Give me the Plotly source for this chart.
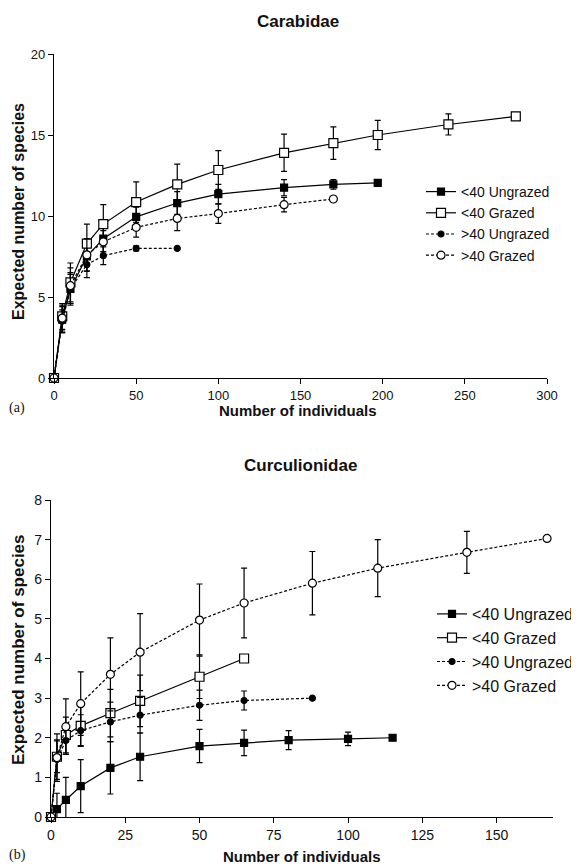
import plotly.graph_objects as go

# ---------------- Carabidae (a) ----------------
a_x_lt_ug = [0, 5, 10, 20, 30, 50, 75, 100, 140, 170, 197]
a_y_lt_ug = [0, 3.6, 5.5, 7.5, 8.6, 9.95, 10.8, 11.35, 11.75, 11.95, 12.05]
a_e_lt_ug = [0, 0.8, 1.0, 0.9, 0.8, 0.6, 0.7, 0.6, 0.5, 0.3, 0]

a_x_lt_g = [0, 5, 10, 20, 30, 50, 75, 100, 140, 170, 197, 240, 281]
a_y_lt_g = [0, 3.8, 5.9, 8.3, 9.5, 10.86, 11.95, 12.84, 13.9, 14.5, 15.0, 15.65, 16.15]
a_e_lt_g = [0, 0.8, 1.2, 1.2, 1.2, 1.25, 1.25, 1.2, 1.15, 1.0, 0.9, 0.65, 0]

a_x_gt_ug = [0, 5, 10, 20, 30, 50, 75]
a_y_gt_ug = [0, 3.5, 5.5, 7.0, 7.55, 8.0, 8.0]
a_e_gt_ug = [0, 0.7, 0.9, 0.8, 0.55, 0.15, 0]

a_x_gt_g = [0, 5, 10, 20, 30, 50, 75, 100, 140, 170]
a_y_gt_g = [0, 3.7, 5.7, 7.6, 8.4, 9.3, 9.85, 10.15, 10.7, 11.05]
a_e_gt_g = [0, 0.8, 1.1, 1.0, 0.7, 0.6, 0.75, 0.6, 0.45, 0]

# ---------------- Curculionidae (b) ----------------
b_x_lt_ug = [0, 2, 5, 10, 20, 30, 50, 65, 80, 100, 115]
b_y_lt_ug = [0, 0.2, 0.43, 0.78, 1.24, 1.52, 1.79, 1.87, 1.94, 1.97, 2.0]
b_e_lt_ug = [0, 0.4, 0.57, 0.67, 0.66, 0.6, 0.42, 0.32, 0.24, 0.17, 0]

b_x_lt_g = [0, 2, 5, 10, 20, 30, 50, 65]
b_y_lt_g = [0, 1.52, 2.07, 2.3, 2.62, 2.93, 3.54, 4.0]
b_e_lt_g = [0, 0.4, 0.45, 0.5, 0.6, 0.65, 0.55, 0]

b_x_gt_ug = [0, 2, 5, 10, 20, 30, 50, 65, 88]
b_y_gt_ug = [0, 1.45, 1.93, 2.18, 2.4, 2.57, 2.82, 2.94, 3.0]
b_e_gt_ug = [0, 0.5, 0.35, 0.4, 0.5, 0.45, 0.38, 0.24, 0]

b_x_gt_g = [0, 2, 5, 10, 20, 30, 50, 65, 88, 110, 140, 167]
b_y_gt_g = [0, 1.5, 2.28, 2.86, 3.6, 4.16, 4.97, 5.4, 5.9, 6.28, 6.68, 7.03]
b_e_gt_g = [0, 0.6, 0.7, 0.8, 0.92, 0.97, 0.91, 0.88, 0.8, 0.72, 0.53, 0]

series_names = ["<40 Ungrazed", "<40 Grazed", ">40 Ungrazed", ">40 Grazed"]

W, H = 579, 867
OFF = 8  # page body margin
FONT = "Liberation Sans, Arial, sans-serif"

def px_x(p):
    return (p - OFF) / W

def px_y(p):
    return 1 - (p - OFF) / H

styles = [
    dict(symbol="square", size=7, fill="black", dash="solid"),
    dict(symbol="square", size=9, fill="white", dash="solid"),
    dict(symbol="circle", size=6, fill="black", dash="3px,2px"),
    dict(symbol="circle", size=8, fill="white", dash="3px,2px"),
]

fig = go.Figure()

def add_series(x, y, e, st, name, xa, ya, legend):
    fig.add_trace(go.Scatter(
        x=x, y=y, mode="lines+markers", name=name,
        xaxis=xa, yaxis=ya, legend=legend, cliponaxis=False,
        line=dict(color="black", width=1.2, dash=st["dash"]),
        marker=dict(symbol=st["symbol"], size=st["size"], color=st["fill"],
                    line=dict(color="black", width=1.2)),
        error_y=dict(type="data", array=e, visible=True, color="black",
                     thickness=1.2, width=3),
    ))

a_data = [(a_x_lt_ug, a_y_lt_ug, a_e_lt_ug), (a_x_lt_g, a_y_lt_g, a_e_lt_g),
          (a_x_gt_ug, a_y_gt_ug, a_e_gt_ug), (a_x_gt_g, a_y_gt_g, a_e_gt_g)]
b_data = [(b_x_lt_ug, b_y_lt_ug, b_e_lt_ug), (b_x_lt_g, b_y_lt_g, b_e_lt_g),
          (b_x_gt_ug, b_y_gt_ug, b_e_gt_ug), (b_x_gt_g, b_y_gt_g, b_e_gt_g)]

for (x, y, e), st, nm in zip(a_data, styles, series_names):
    add_series(x, y, e, st, nm, "x", "y", "legend")
for (x, y, e), st, nm in zip(b_data, styles, series_names):
    add_series(x, y, e, st, nm, "x2", "y2", "legend2")

def axis_common(size):
    return dict(showgrid=False, zeroline=False, showline=True, linecolor="black",
                linewidth=1.3, ticks="outside", ticklen=5, tickwidth=1.2,
                tickcolor="black", automargin=False,
                tickfont=dict(family=FONT, size=size, color="#111"))

fig.update_layout(
    width=W, height=H,
    margin=dict(l=0, r=0, t=0, b=0, autoexpand=False),
    paper_bgcolor="white", plot_bgcolor="white",
    showlegend=True,
    xaxis=dict(domain=[px_x(54), px_x(547)], range=[0, 300], tickvals=[0, 50, 100, 150, 200, 250, 300],
               anchor="y", **axis_common(13)),
    yaxis=dict(domain=[px_y(378), px_y(54)], range=[0, 20], tickvals=[0, 5, 10, 15, 20],
               anchor="x", **axis_common(13)),
    xaxis2=dict(domain=[px_x(51), px_x(553)], range=[0, 169], tickvals=[0, 25, 50, 75, 100, 125, 150],
                anchor="y2", **axis_common(14)),
    yaxis2=dict(domain=[px_y(817), px_y(500)], range=[0, 8], tickvals=list(range(9)),
                anchor="x2", **axis_common(14)),
    legend=dict(x=px_x(421), y=px_y(176), xanchor="left", yanchor="top",
                bgcolor="rgba(0,0,0,0)", font=dict(family=FONT, size=14, color="#111"),
                tracegroupgap=0, itemwidth=30),
    legend2=dict(x=px_x(432), y=px_y(597), xanchor="left", yanchor="top",
                 bgcolor="rgba(0,0,0,0)", font=dict(family=FONT, size=16, color="#111"),
                 tracegroupgap=0, itemwidth=30),
)

def ann(text, x, y, size, bold=True, angle=0, family=FONT, xanchor="center"):
    fig.add_annotation(text=f"<b>{text}</b>" if bold else text, x=px_x(x), y=px_y(y),
                       xref="paper", yref="paper", showarrow=False, textangle=angle,
                       font=dict(family=family, size=size, color="#111"),
                       xanchor=xanchor, yanchor="middle")

SERIF = "Liberation Serif, Times New Roman, serif"
ann("Carabidae", 298, 22, 17)
ann("Number of individuals", 298, 410, 15)
ann("Expected number of species", 18, 212, 16, angle=-90)
ann("(a)", 7, 408, 14, bold=False, family=SERIF, xanchor="left")

ann("Curculionidae", 300, 466, 17)
ann("Number of individuals", 302, 856, 15)
ann("Expected number of species", 18, 650, 17, angle=-90)
ann("(b)", 7, 855, 14, bold=False, family=SERIF, xanchor="left")

fig.write_html("out.html")
